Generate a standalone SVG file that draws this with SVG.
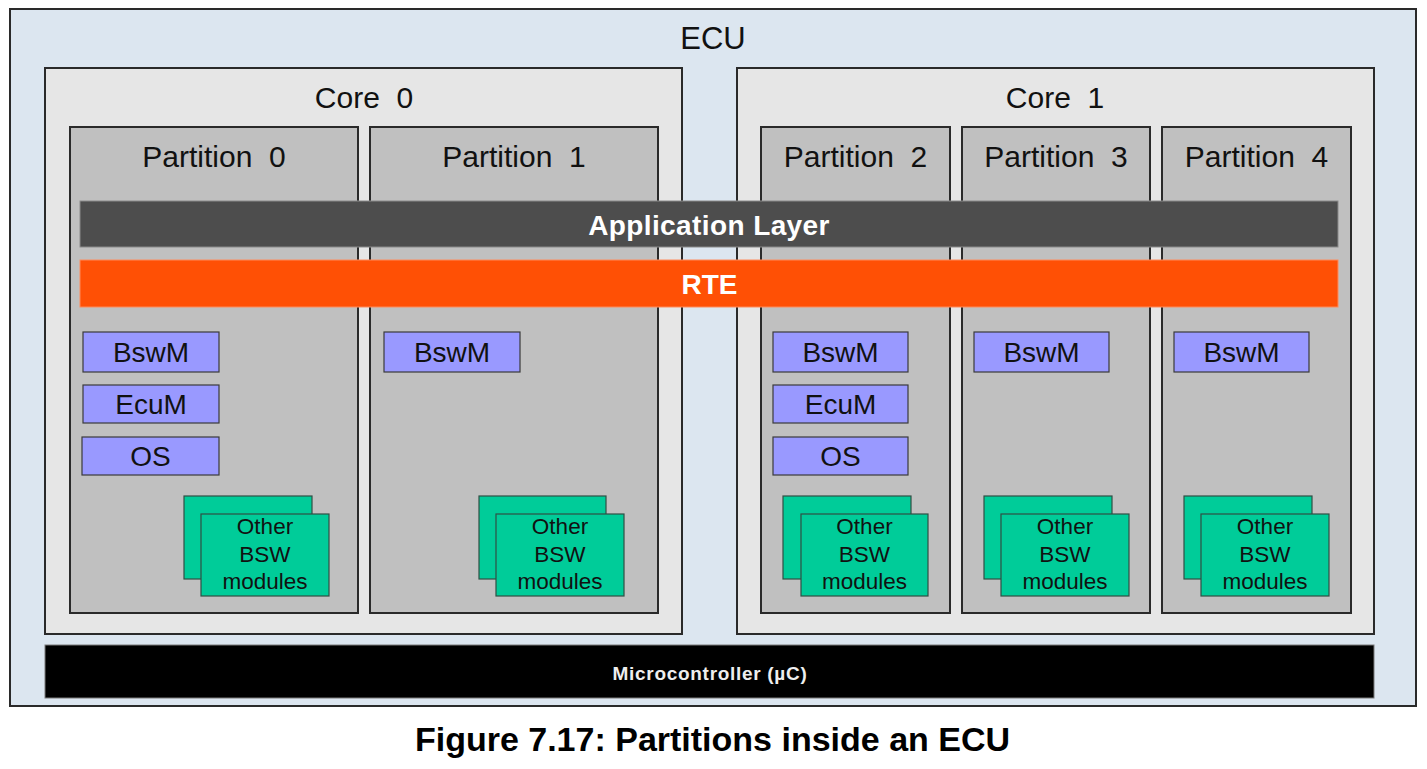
<svg xmlns="http://www.w3.org/2000/svg" width="1427" height="769" viewBox="0 0 1427 769">
<style>
text{font-family:"Liberation Sans",Arial,sans-serif;fill:#111;text-anchor:middle;white-space:pre}
.ecu{fill:#dce6f0;stroke:#2a2a2a;stroke-width:2}
.core{fill:#e6e6e6;stroke:#2a2a2a;stroke-width:2}
.part{fill:#c0c0c0;stroke:#2a2a2a;stroke-width:2}
.mod{fill:#9999ff;stroke:#3a3a3a;stroke-width:1.2}
.oth{fill:#00cc99;stroke:#2f4f44;stroke-width:1.2}
.lbl{font-size:30px}
.mtx{font-size:28px}
.otx{font-size:22.5px}
.bar{font-size:28px;font-weight:bold;fill:#fff}
</style>
<g id="ecu">
<rect class="ecu" x="10" y="9" width="1406" height="697"/>
<text class="lbl" x="713" y="49" style="font-size:31px">ECU</text>
</g>
<g id="core0">
<rect class="core" x="45" y="68" width="637" height="566"/>
<text class="lbl" x="364" y="108">Core  0</text>
</g>
<g id="core1">
<rect class="core" x="737" y="68" width="637" height="566"/>
<text class="lbl" x="1055" y="108">Core  1</text>
</g>
<g id="partition0">
<rect class="part" x="70" y="127" width="288" height="486"/>
<text class="lbl" x="214" y="167">Partition  0</text>
</g>
<g id="partition1">
<rect class="part" x="370" y="127" width="288" height="486"/>
<text class="lbl" x="514" y="167">Partition  1</text>
</g>
<g id="partition2">
<rect class="part" x="761" y="127" width="189" height="486"/>
<text class="lbl" x="855.5" y="167">Partition  2</text>
</g>
<g id="partition3">
<rect class="part" x="962" y="127" width="188" height="486"/>
<text class="lbl" x="1056" y="167">Partition  3</text>
</g>
<g id="partition4">
<rect class="part" x="1162" y="127" width="189" height="486"/>
<text class="lbl" x="1256.5" y="167">Partition  4</text>
</g>
<g id="application-layer">
<rect x="80" y="201" width="1258" height="46" fill="#4d4d4d" stroke="#8a8a8a" stroke-width="1"/>
<text class="bar" x="709" y="235" style="letter-spacing:0.4px">Application Layer</text>
</g>
<g id="rte">
<rect x="80" y="260" width="1258" height="47" fill="#ff5005" stroke="#ff8a5a" stroke-width="1"/>
<text class="bar" x="709.5" y="294">RTE</text>
</g>
<g id="p0-bswm"><rect class="mod" x="83" y="332" width="136" height="40"/><text class="mtx" x="151" y="362">BswM</text></g>
<g id="p0-ecum"><rect class="mod" x="83" y="385" width="136" height="38"/><text class="mtx" x="151" y="414">EcuM</text></g>
<g id="p0-os"><rect class="mod" x="82" y="437" width="137" height="38"/><text class="mtx" x="150.5" y="466">OS</text></g>
<g id="p0-other">
<rect class="oth" x="184" y="496" width="128" height="83"/>
<rect class="oth" x="201" y="514" width="128" height="82"/>
<text class="otx" x="265" y="534">Other</text><text class="otx" x="265" y="562">BSW</text><text class="otx" x="265" y="589">modules</text>
</g>
<g id="p1-bswm"><rect class="mod" x="384" y="332" width="136" height="40"/><text class="mtx" x="452" y="362">BswM</text></g>
<g id="p1-other">
<rect class="oth" x="479" y="496" width="127" height="83"/>
<rect class="oth" x="496" y="514" width="128" height="82"/>
<text class="otx" x="560" y="534">Other</text><text class="otx" x="560" y="562">BSW</text><text class="otx" x="560" y="589">modules</text>
</g>
<g id="p2-bswm"><rect class="mod" x="773" y="332" width="135" height="40"/><text class="mtx" x="840.5" y="362">BswM</text></g>
<g id="p2-ecum"><rect class="mod" x="773" y="385" width="135" height="38"/><text class="mtx" x="840.5" y="414">EcuM</text></g>
<g id="p2-os"><rect class="mod" x="773" y="437" width="135" height="38"/><text class="mtx" x="840.5" y="466">OS</text></g>
<g id="p2-other">
<rect class="oth" x="783" y="496" width="128" height="83"/>
<rect class="oth" x="801" y="514" width="127" height="82"/>
<text class="otx" x="864.5" y="534">Other</text><text class="otx" x="864.5" y="562">BSW</text><text class="otx" x="864.5" y="589">modules</text>
</g>
<g id="p3-bswm"><rect class="mod" x="974" y="332" width="135" height="40"/><text class="mtx" x="1041.5" y="362">BswM</text></g>
<g id="p3-other">
<rect class="oth" x="984" y="496" width="128" height="83"/>
<rect class="oth" x="1001" y="514" width="128" height="82"/>
<text class="otx" x="1065" y="534">Other</text><text class="otx" x="1065" y="562">BSW</text><text class="otx" x="1065" y="589">modules</text>
</g>
<g id="p4-bswm"><rect class="mod" x="1174" y="332" width="135" height="40"/><text class="mtx" x="1241.5" y="362">BswM</text></g>
<g id="p4-other">
<rect class="oth" x="1184" y="496" width="128" height="83"/>
<rect class="oth" x="1201" y="514" width="128" height="82"/>
<text class="otx" x="1265" y="534">Other</text><text class="otx" x="1265" y="562">BSW</text><text class="otx" x="1265" y="589">modules</text>
</g>
<g id="microcontroller">
<rect x="45" y="645" width="1329" height="53" fill="#000" stroke="#7a7a7a" stroke-width="1"/>
<text x="710" y="679.5" style="font-size:19px;font-weight:bold;fill:#eee;letter-spacing:0.7px">Microcontroller (µC)</text>
</g>
<g id="connectors"></g>
<text x="712.5" y="751" style="font-size:34px;font-weight:bold;fill:#000">Figure 7.17: Partitions inside an ECU</text>
</svg>
